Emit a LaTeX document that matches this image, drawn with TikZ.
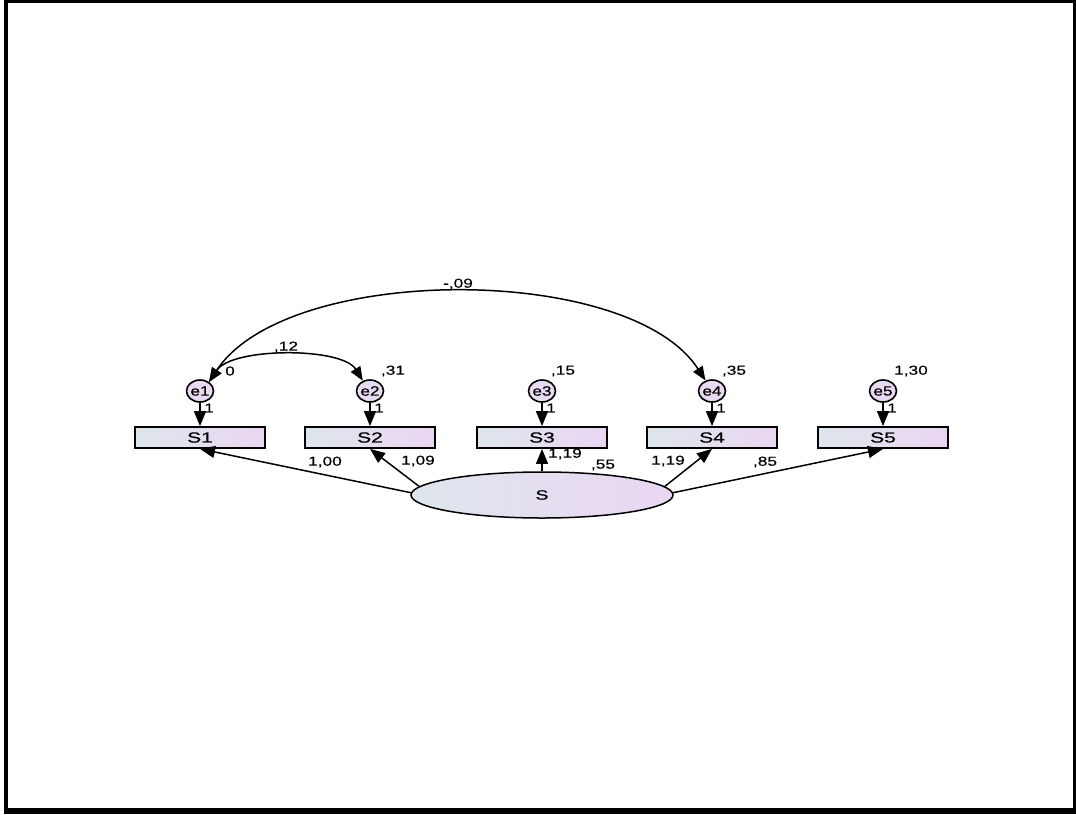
\documentclass[tikz,border=0pt]{standalone}
\usepackage{fontspec}
\newfontfamily\lfont[FakeStretch=1.33,FakeBold=0.4]{Liberation Sans}
\newfontfamily\efont[FakeStretch=1.27,FakeBold=0.5]{Liberation Sans}
\newfontfamily\nfont[FakeStretch=1.45,FakeBold=0.5]{Liberation Sans}
\usetikzlibrary{shapes.geometric,arrows.meta}
\definecolor{gl}{RGB}{222,230,236}
\definecolor{gr}{RGB}{234,214,243}
\definecolor{ef}{RGB}{232,218,240}
\tikzset{
  obs/.style={rectangle,draw,line width=1.8pt,minimum width=130pt,minimum height=21pt,inner sep=0pt,
    left color=gl,right color=gr,font=\nfont\fontsize{14.5}{15}\selectfont},
  err/.style={ellipse,draw,line width=1.6pt,minimum width=25pt,minimum height=22pt,inner sep=0pt,
    fill=ef,font=\efont\fontsize{13.5}{14}\selectfont},
  lat/.style={ellipse,draw,line width=1.5pt,minimum width=262pt,minimum height=46pt,inner sep=0pt,
    left color=gl,right color=gr,font=\nfont\fontsize{13.5}{14}\selectfont},
  lbl/.style={inner sep=0pt,font=\lfont\fontsize{13}{14}\selectfont},
  arr/.style={line width=1.5pt,-{Triangle[length=15pt,width=12pt]}},
  cov/.style={line width=1.5pt,{Triangle[length=14pt,width=11pt]}-{Triangle[length=14pt,width=11pt]}}
}
\begin{document}
\begin{tikzpicture}[x=1pt,y=-1pt]
\useasboundingbox (0,0) rectangle (1076,814);
\draw[line width=3.5pt] (6,1.5) rectangle (1074.5,810);
\draw[line width=5pt] (4,811.5) -- (1076,811.5);
% observed
\node[obs] (S1) at (200,437.5) {S1};
\node[obs] (S2) at (370,437.5) {S2};
\node[obs] (S3) at (542,437.5) {S3};
\node[obs] (S4) at (712,437.5) {S4};
\node[obs] (S5) at (883,437.5) {S5};
% errors
\node[err] (e1) at (200,391) {e1};
\node[err] (e2) at (370,391) {e2};
\node[err] (e3) at (542,391) {e3};
\node[err] (e4) at (712,391) {e4};
\node[err] (e5) at (883,391) {e5};
% latent
\node[lat] (S) at (542,495) {S};
% error arrows
\foreach \i in {1,...,5}{\draw[arr] (e\i.south) -- (S\i.north);}
% loadings
\draw[arr] (S.179) -- (S1.south);
\draw[arr] (S.176) -- (S2.south);
\draw[arr] (S.north) -- (S3.south);
\draw[arr] (S.4) -- (S4.south);
\draw[arr] (S.1) -- (S5.south);
% covariances
\draw[cov] (e1.45) .. controls (232,347) and (342,347) .. (e2.125);
\draw[cov] (e1.45) .. controls (287,263) and (630,263) .. (e4.122);
% labels
\node[lbl] (c12) at (286,347) {,12};
\node[lbl] (c14) at (458,284) {-,09};
\node[lbl] (v1) at (230,371) {0};
\node[lbl] (v2) at (393,371) {,31};
\node[lbl] (v3) at (563,371) {,15};
\node[lbl] (v4) at (734,371) {,35};
\node[lbl] (v5) at (911,371) {1,30};
\node[lbl] (o1) at (209,408) {1};
\node[lbl] (o2) at (379,408) {1};
\node[lbl] (o3) at (551,408) {1};
\node[lbl] (o4) at (721,408) {1};
\node[lbl] (o5) at (892,408) {1};
\node[lbl] (l1) at (325,462) {1,00};
\node[lbl] (l2) at (418,461) {1,09};
\node[lbl] (l3) at (565,454) {1,19};
\node[lbl] (vs) at (603,465) {,55};
\node[lbl] (l4) at (668,461) {1,19};
\node[lbl] (l5) at (765,462) {,85};
\end{tikzpicture}
\end{document}
